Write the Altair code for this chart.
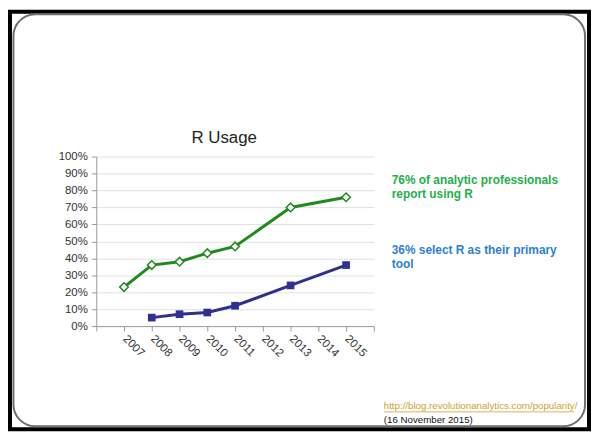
import altair as alt
import pandas as pd

# ---- data ----
years = [2007, 2008, 2009, 2010, 2011, 2012, 2013, 2014, 2015]
any_use = [0.23, 0.36, 0.38, 0.43, 0.47, None, 0.70, None, 0.76]
primary = [None, 0.05, 0.07, 0.08, 0.12, None, 0.24, None, 0.36]
y_ticks = [i / 10 for i in range(11)]
x_ticks = list(range(2006, 2017))

title_text = "R Usage"
note_green = ["76% of analytic professionals", "report using R"]
note_blue = ["36% select R as their primary", "tool"]
source_url = "http://blog.revolutionanalytics.com/popularity/"
source_date = "(16 November 2015)"

# ---- layout ----
W, H = 280, 171          # plot area
PL, PT = 89, 148         # plot origin inside the svg
SW, SH = 588, 425        # svg size
OX, OY = 8 + PL, 8 + PT  # plot origin on the page


def px(x):
    return x - OX


def py(y):
    return y - OY


FONT = "Liberation Sans"
GREEN = "#1f8a1f"
NAVY = "#2e3192"

green_df = pd.DataFrame({"year": years, "share": any_use}).dropna()
blue_df = pd.DataFrame({"year": years, "share": primary}).dropna()
one = alt.Data(values=[{"k": 1}])

x_enc = alt.X(
    "year:Q",
    scale=alt.Scale(domain=[2006, 2016], nice=False, zero=False),
    axis=alt.Axis(
        values=x_ticks,
        format="d",
        labelExpr="(datum.value < 2007 || datum.value > 2015) ? '' : datum.label",
        labelAngle=45,
        labelAlign="left",
        labelBaseline="middle",
        labelPadding=6,
        tickSize=5,
        grid=False,
        domainColor="#9a9a9a",
        tickColor="#9a9a9a",
        labelColor="#333333",
        labelFontSize=11.5,
        labelFont=FONT,
        title=None,
    ),
)
y_enc = alt.Y(
    "share:Q",
    scale=alt.Scale(domain=[0, 1], nice=False),
    axis=alt.Axis(
        values=y_ticks,
        format=".0%",
        grid=True,
        gridColor="#e0e0e0",
        tickSize=5,
        labelPadding=4,
        domainColor="#9a9a9a",
        tickColor="#9a9a9a",
        labelColor="#333333",
        labelFontSize=11.5,
        labelFont=FONT,
        title=None,
    ),
)

frame = alt.Chart(one).mark_rect(fill=None, stroke="black", strokeWidth=4).encode(
    x=alt.value(px(10)), x2=alt.value(px(594)),
    y=alt.value(py(10)), y2=alt.value(py(431)),
)
slide = alt.Chart(one).mark_rect(
    fill=None, stroke="#6e6e6e", strokeWidth=2, cornerRadius=22
).encode(
    x=alt.value(px(13.5)), x2=alt.value(px(590)),
    y=alt.value(py(12.5)), y2=alt.value(py(428)),
)

green_line = alt.Chart(green_df).mark_line(color=GREEN, strokeWidth=3).encode(x=x_enc, y=y_enc)
green_pts = alt.Chart(green_df).mark_point(
    shape="diamond", filled=True, fill="white", stroke=GREEN, strokeWidth=1.5, size=75, opacity=1
).encode(x=x_enc, y=y_enc)
blue_line = alt.Chart(blue_df).mark_line(color=NAVY, strokeWidth=3).encode(x=x_enc, y=y_enc)
blue_pts = alt.Chart(blue_df).mark_point(
    shape="square", filled=True, color=NAVY, size=60, opacity=1
).encode(x=x_enc, y=y_enc)

title = alt.Chart(one).mark_text(
    font=FONT, fontSize=17, color="#222222", align="center", baseline="middle"
).encode(x=alt.value(px(226)), y=alt.value(py(137)), text=alt.value(title_text))

t_green = alt.Chart(one).mark_text(
    font=FONT, fontSize=12, fontWeight="bold", color="#22b04b",
    align="left", baseline="middle", lineHeight=14,
).encode(x=alt.value(px(395)), y=alt.value(py(180)), text=alt.value(note_green))

t_blue = alt.Chart(one).mark_text(
    font=FONT, fontSize=12, fontWeight="bold", color="#2f80d0",
    align="left", baseline="middle", lineHeight=14,
).encode(x=alt.value(px(395)), y=alt.value(py(250)), text=alt.value(note_blue))

t_url = alt.Chart(one).mark_text(
    font=FONT, fontSize=9.8, color="#d4a030", align="left", baseline="middle"
).encode(x=alt.value(px(387)), y=alt.value(py(408)), text=alt.value(source_url))

url_line = alt.Chart(one).mark_rule(color="#d4a030", strokeWidth=0.8).encode(
    x=alt.value(px(387)), x2=alt.value(px(579)), y=alt.value(py(413.5))
)

t_date = alt.Chart(one).mark_text(
    font=FONT, fontSize=9.8, color="#111111", align="left", baseline="middle"
).encode(x=alt.value(px(387)), y=alt.value(py(422)), text=alt.value(source_date))

chart = alt.layer(
    frame, slide, green_line, green_pts, blue_line, blue_pts,
    title, t_green, t_blue, t_url, url_line, t_date,
).properties(
    width=W,
    height=H,
    padding={"left": PL, "top": PT, "right": SW - PL - W, "bottom": SH - PT - H},
    autosize=alt.AutoSizeParams(type="none"),
    background="white",
).configure_view(stroke=None)

chart.save("out.html", embed_options={"renderer": "svg", "actions": False})
